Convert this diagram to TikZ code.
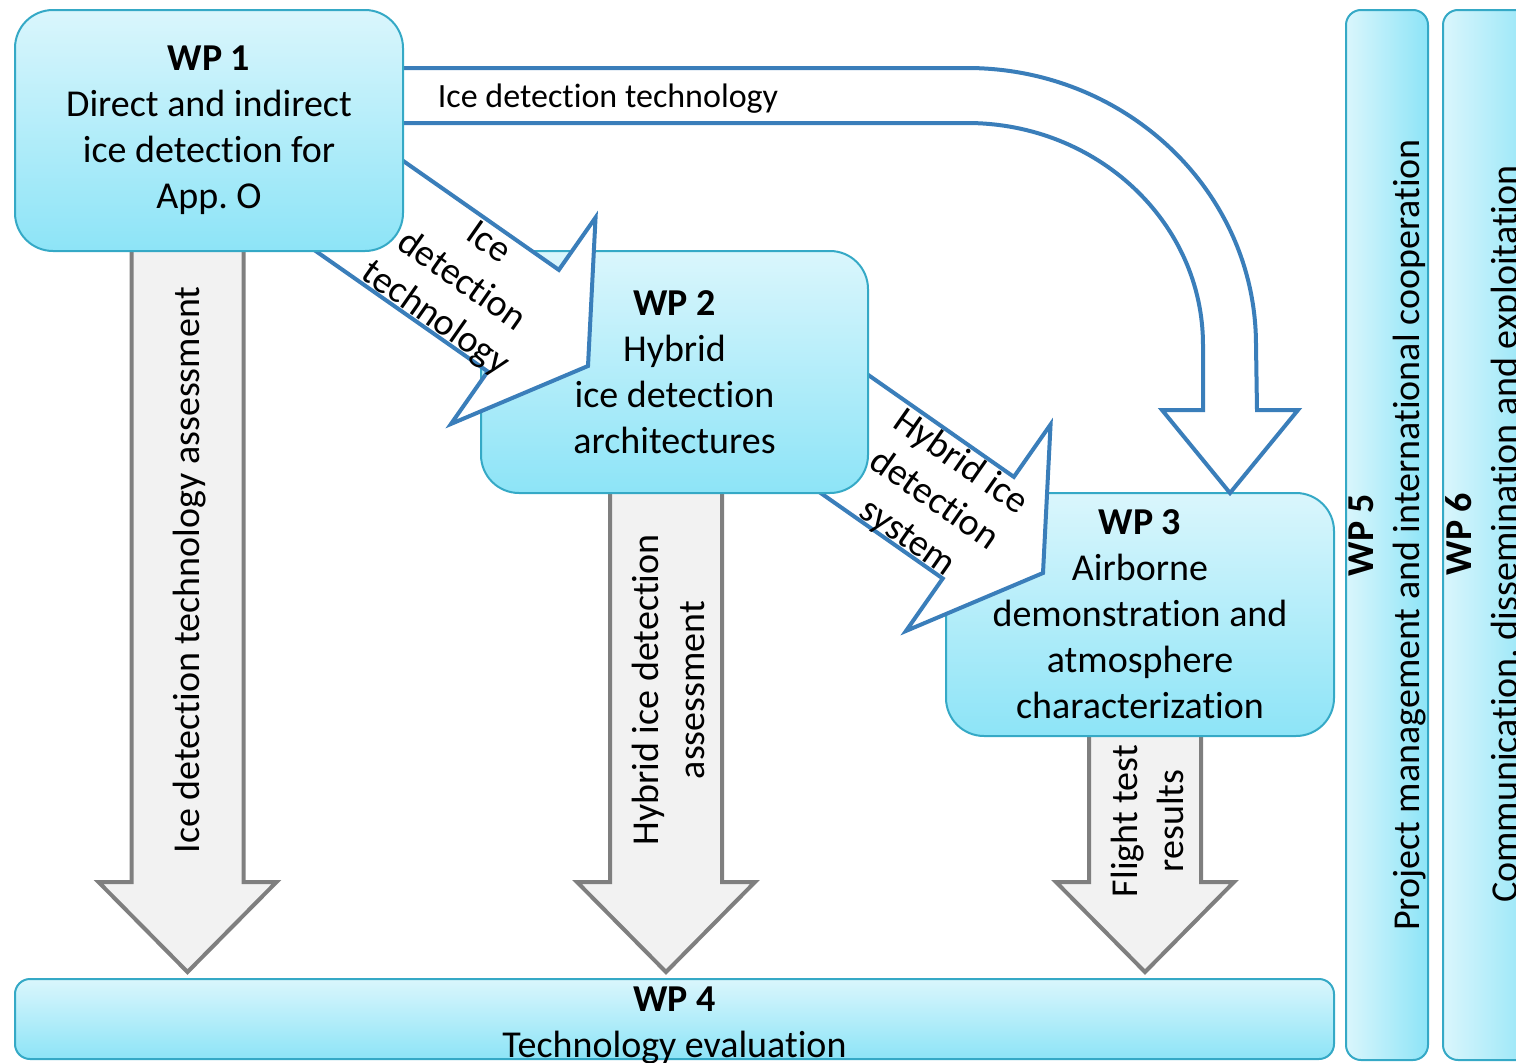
\documentclass[tikz,border=0pt]{standalone}
\usepackage{fontspec}
\setmainfont{Carlito}[Ligatures=NoCommon]
\frenchspacing
\newcommand\mainfs{\fontsize{38}{46}\selectfont}
\newcommand\lblfs{\fontsize{34}{40}\selectfont}
\definecolor{boxtop}{HTML}{DAF6FC}
\definecolor{boxbot}{HTML}{8DE4F7}
\definecolor{boxline}{HTML}{35A9C6}
\definecolor{arrblue}{HTML}{3A7EBA}
\definecolor{greyfill}{HTML}{F2F2F2}
\definecolor{greyline}{HTML}{7F7F7F}
\tikzset{
  wpbox/.style={draw=boxline, line width=2pt, top color=boxtop, bottom color=boxbot,
    rounded corners=38pt, inner sep=0pt, align=center, font=\mainfs},
  vbox/.style={draw=boxline, line width=2pt, left color=boxtop, right color=boxbot,
    rounded corners=15pt, inner sep=0pt},
  greyarrow/.style={draw=greyline, fill=greyfill, line width=4pt, line join=miter},
  bluearrow/.style={draw=arrblue, fill=white, line width=4pt, line join=miter},
  lbl/.style={font=\mainfs, align=center, inner sep=0pt},
}
\begin{document}
\begin{tikzpicture}[x=1pt, y=-1pt]
\useasboundingbox (0,0) rectangle (1516,1063);
\clip (0,0) rectangle (1516,1063);
% grey arrows
\coordinate (g1) at (187.5,972);
\coordinate (g2) at (666,972);
\coordinate (g3) at (1145,972);
\foreach \cx/\top in {187.5/230, 666/470, 1145/715}{
  \draw[greyarrow] ({\cx-56},\top) -- ({\cx-56},882) -- ({\cx-89},882) -- (\cx,972)
     -- ({\cx+89},882) -- ({\cx+56},882) -- ({\cx+56},\top) -- cycle;
}
\node[lbl, rotate=90] (tg1) at (190,570) {Ice detection technology assessment};
\node[lbl, rotate=90] (tg2) at (668,690) {Hybrid ice detection\\assessment};
\node[lbl, rotate=90] (tg3) at (1147,821) {Flight test\\results};
% WP3
\node[wpbox, minimum width=388pt, minimum height=243pt] (wp3) at (1140,614.5)
  {\textbf{WP 3}\\Airborne\\demonstration and\\atmosphere\\characterization};
% arrow WP2 -> WP3
\begin{scope}[shift={(1043,573)}, rotate=-35]
\draw[bluearrow] (0,0) -- (-79,-126) -- (-79,-62) -- (-340,-62) -- (-340,62) -- (-79,62) -- (-79,126) -- cycle;
\end{scope}
\node[lbl, rotate=-35] (ta23) at (934,500) {Hybrid ice\\detection\\system};
% WP2
\node[wpbox, minimum width=387pt, minimum height=242pt] (wp2) at (674.5,372)
  {\textbf{WP 2}\\Hybrid\\ice detection\\architectures};
% arrow WP1 -> WP2
\begin{scope}[shift={(588,366)}, rotate=-35]
\draw[bluearrow] (0,0) -- (-79,-126) -- (-79,-62) -- (-340,-62) -- (-340,62) -- (-79,62) -- (-79,126) -- cycle;
\end{scope}
\node[lbl, rotate=-35] (ta12) at (461,282) {Ice\\detection\\technology};
% curved arrow WP1 -> WP3
\draw[bluearrow] (390,68) -- (967,68)
  arc[start angle=90, end angle=0, x radius=289pt, y radius=277pt]
  -- (1257,410) -- (1298,410) -- (1230,493) -- (1162,410) -- (1203,410) -- (1203,345)
  arc[start angle=0, end angle=90, x radius=236pt, y radius=222pt]
  -- (390,123) -- cycle;
\node[font=\lblfs, inner sep=0pt] (tc) at (608,99) {Ice detection technology};
% WP1
\node[wpbox, minimum width=388pt, minimum height=241pt] (wp1) at (209,130.5)
  {\textbf{WP 1}\\Direct and indirect\\ice detection for\\App. O};
% WP4
\node[wpbox, rounded corners=15pt, minimum width=1319pt, minimum height=80pt] (wp4) at (674.5,1019) {};
\node[lbl] (t4) at (674.5,1025) {\textbf{WP 4}\\Technology evaluation};
% WP5, WP6
\node[vbox, minimum width=82pt, minimum height=1050pt] (wp5) at (1387,535) {};
\node[lbl, rotate=90] (t5) at (1387.5,535) {\textbf{WP 5}\\Project management and international cooperation};
\node[vbox, minimum width=100pt, minimum height=1050pt] (wp6) at (1493,535) {};
\node[lbl, rotate=90] (t6) at (1485,534) {\textbf{WP 6}\\Communication, dissemination and exploitation};
\end{tikzpicture}
\end{document}
